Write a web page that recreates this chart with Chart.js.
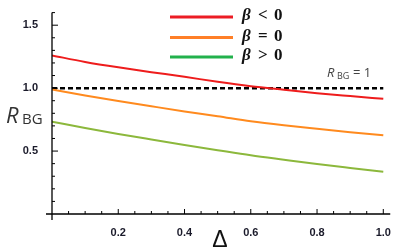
<!DOCTYPE html>
<html>
<head>
<meta charset="utf-8"/>
<title>R_BG vs Delta</title>
<script src="https://cdn.jsdelivr.net/npm/chart.js"></script>
<style>
  body { margin: 0; background: #fff; }
  .wrap { position: relative; width: 395px; height: 252px; }
</style>
</head>
<body>
<div class="wrap"><canvas id="rbgChart" width="395" height="252"></canvas></div>
<script>
  // data
  const deltaValues    = [0, 0.1, 0.2, 0.3, 0.4, 0.5, 0.6, 0.7, 0.8, 0.9, 1.0];
  const betaNegValues  = [1.26, 1.208, 1.165, 1.127, 1.09, 1.05, 1.015, 0.987, 0.96, 0.937, 0.915];
  const betaZeroValues = [0.99, 0.942, 0.898, 0.856, 0.815, 0.777, 0.737, 0.705, 0.677, 0.65, 0.625];
  const betaPosValues  = [0.734, 0.683, 0.636, 0.592, 0.549, 0.507, 0.466, 0.431, 0.397, 0.366, 0.336];
  const refLineX = [0, 1.0];
  const refLineY = [1, 1];
  const legendLabels = ['<', '=', '>'];
  const xLabelValues = [0.2, 0.4, 0.6, 0.8, 1.0];
  const yLabelValues = [0.5, 1.0, 1.5];

  const toPoints = (xs, ys) => xs.map((x, i) => ({ x: x, y: ys[i] }));
  const near = (v, list) => list.some(t => Math.abs(t - v) < 1e-6);

  const plotColors   = ['#ee1c1c', '#ff8a1e', '#8cb83c'];
  const legendColors = ['#ec1c24', '#ff7f27', '#22b14c'];

  // axes, inward ticks, legend and text labels
  const decorPlugin = {
    id: 'decor',
    afterDraw(chart) {
      const ctx = chart.ctx;
      const xs = chart.scales.x, ys = chart.scales.y;
      const x0 = xs.getPixelForValue(0), y0 = ys.getPixelForValue(0);
      ctx.save();
      ctx.strokeStyle = '#000';
      ctx.lineWidth = 1.3;
      ctx.beginPath();
      ctx.moveTo(x0, chart.chartArea.top);
      ctx.lineTo(x0, y0 + 6);
      ctx.moveTo(x0 - 6, y0);
      ctx.lineTo(chart.chartArea.right, y0);
      ctx.stroke();

      ctx.lineWidth = 1;
      ctx.beginPath();
      xs.ticks.forEach(t => {
        if (t.value <= 0) return;
        const px = xs.getPixelForValue(t.value);
        const len = near(t.value, xLabelValues) ? 5 : 3;
        ctx.moveTo(px, y0);
        ctx.lineTo(px, y0 - len);
      });
      ys.ticks.forEach(t => {
        if (t.value <= 0) return;
        const py = ys.getPixelForValue(t.value);
        const len = near(t.value, yLabelValues) ? 6 : 3;
        ctx.moveTo(x0, py);
        ctx.lineTo(x0 + len, py);
      });
      ctx.stroke();

      // legend
      ctx.lineWidth = 3;
      const rows = [17, 37.5, 57];
      rows.forEach((y, i) => {
        ctx.strokeStyle = legendColors[i];
        ctx.beginPath();
        ctx.moveTo(170, y);
        ctx.lineTo(233, y);
        ctx.stroke();
        ctx.fillStyle = '#111';
        ctx.textBaseline = 'middle';
        ctx.textAlign = 'left';
        ctx.font = 'bold italic 17px "Liberation Serif"';
        ctx.fillText('\u03B2', 242, y - 1);
        ctx.font = 'bold 17px "Liberation Serif"';
        ctx.fillText(legendLabels[i], 258, y - 1);
        ctx.fillText('0', 274, y - 1);
      });

      // R_BG = 1 label
      ctx.fillStyle = '#444';
      ctx.textBaseline = 'alphabetic';
      ctx.font = 'italic 13px "Open Sans"';
      ctx.fillText('R', 327, 77);
      ctx.font = '9px "Open Sans"';
      ctx.fillText('BG', 337, 79);
      ctx.font = '13px "Open Sans"';
      ctx.fillText('= 1', 353, 77);

      // y axis title
      ctx.fillStyle = '#333';
      ctx.font = 'italic 22px "Open Sans"';
      ctx.fillText('R', 6, 123);
      ctx.font = '15px "Open Sans"';
      ctx.fillText('BG', 22, 124);

      // x axis title
      ctx.fillStyle = '#111';
      ctx.textAlign = 'center';
      ctx.font = '23px "Liberation Sans"';
      ctx.fillText('\u0394', 220, 247);
      ctx.restore();
    }
  };

  const lineSet = (data, color) => ({
    data: data,
    borderColor: color,
    borderWidth: 2,
    pointRadius: 0,
    fill: false,
    cubicInterpolationMode: 'monotone'
  });

  new Chart(document.getElementById('rbgChart'), {
    type: 'line',
    data: {
      datasets: [
        lineSet(toPoints(deltaValues, betaNegValues), plotColors[0]),
        lineSet(toPoints(deltaValues, betaZeroValues), plotColors[1]),
        lineSet(toPoints(deltaValues, betaPosValues), plotColors[2]),
        {
          data: toPoints(refLineX, refLineY),
          borderColor: '#000',
          borderWidth: 2.5,
          borderDash: [5, 3],
          pointRadius: 0,
          fill: false
        }
      ]
    },
    options: {
      responsive: false,
      animation: false,
      layout: { padding: { top: 7, right: 3, left: 0, bottom: 0 } },
      plugins: { legend: { display: false }, tooltip: { enabled: false } },
      scales: {
        x: {
          type: 'linear',
          min: 0,
          max: 1.021,
          grid: { display: false },
          border: { display: false },
          afterFit: s => { s.height = 38; },
          ticks: {
            stepSize: 0.05,
            includeBounds: false,
            autoSkip: false,
            maxRotation: 0,
            padding: 4,
            color: '#1a1a2a',
            font: { family: 'Liberation Sans', size: 11, weight: 'bold' },
            callback: v => near(v, xLabelValues) ? v.toFixed(1) : ''
          }
        },
        y: {
          min: 0,
          max: 1.6,
          grid: { display: false },
          border: { display: false },
          afterFit: s => { s.width = 52; },
          ticks: {
            stepSize: 0.1,
            autoSkip: false,
            padding: 6,
            color: '#1a1a2a',
            font: { family: 'Liberation Sans', size: 11, weight: 'bold' },
            callback: v => near(v, yLabelValues) ? v.toFixed(1) : ''
          }
        }
      }
    },
    plugins: [decorPlugin]
  });
</script>
</body>
</html>
